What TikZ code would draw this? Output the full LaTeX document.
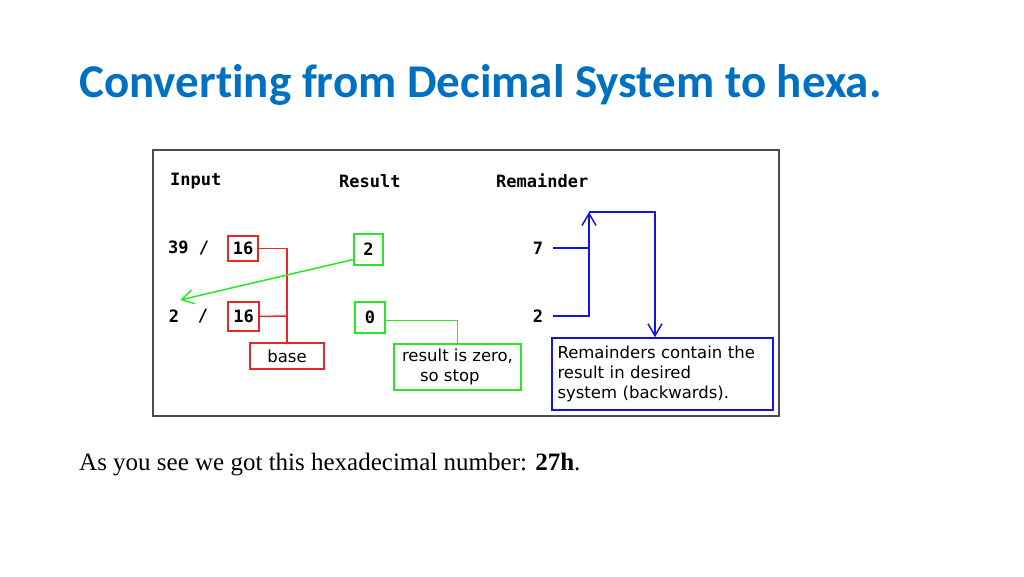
\documentclass[tikz,border=0pt]{standalone}
\usepackage{fontspec}
\setmainfont{Liberation Serif}
\newfontfamily\titlefont[RawFeature=-liga]{Carlito}
\newfontfamily\monof{DejaVu Sans Mono}
\newfontfamily\smallsans{DejaVu Sans}
\usetikzlibrary{arrows.meta}
\definecolor{titleblue}{RGB}{0,112,192}
\definecolor{rd}{RGB}{230,40,40}
\definecolor{gr}{RGB}{40,230,40}
\definecolor{bl}{RGB}{20,20,220}
\begin{document}
\begin{tikzpicture}[x=1pt,y=-1pt,
  hdr/.style={font=\monof\bfseries\fontsize{17}{20}\selectfont,anchor=west,inner sep=0},
  num/.style={font=\monof\bfseries\fontsize{17}{20}\selectfont,inner sep=0},
  lbl/.style={font=\smallsans\fontsize{16.5}{20}\selectfont,inner sep=0,align=left},
  rbox/.style={draw=rd,line width=1.5pt},
  gbox/.style={draw=gr,line width=1.5pt},
  bbox/.style={draw=bl,line width=1.5pt},
  oarrow/.style={-{Straight Barb[length=12pt,width=14pt]}}]
\useasboundingbox (0,0) rectangle (1024,576);
\node[font=\titlefont\bfseries\fontsize{47}{52}\selectfont,text=titleblue,anchor=west,inner sep=0] (title) at (79,85) {Converting from Decimal System to hexa.};
\draw[draw=black!70,line width=1.8pt] (153,150) rectangle (779,416);
\node[hdr] (h1) at (170,181) {Input};
\node[hdr] (h2) at (339,181) {Result};
\node[hdr] (h3) at (496,181) {Remainder};
\node[num,anchor=west] (n39) at (168,248) {39 /};
\node[rbox,minimum width=30pt,minimum height=25pt,num] (b16a) at (243,248.5) {16};
\node[num] (n2) at (174,316) {2};
\node[num] (sl) at (203,316) {/};
\node[rbox,minimum width=31pt,minimum height=29pt,num] (b16b) at (243.5,316.5) {16};
\node[rbox,minimum width=74pt,minimum height=26pt,lbl] (base) at (287,356) {base};
\coordinate (rj) at (286,316);
\draw[rd,line width=1.5pt] (b16a.east) -| (base.north);
\draw[rd,line width=1.5pt] (b16b.east) -- (rj);
\node[gbox,minimum width=29pt,minimum height=31pt,num] (g2) at (368.5,249.5) {2};
\node[gbox,minimum width=30pt,minimum height=31pt,num] (g0) at (370,317.5) {0};
\node[gbox,minimum width=127pt,minimum height=46pt,lbl,align=left] (stop) at (457.5,367) {result is zero,\\\hspace{18pt}so stop};
\coordinate (ah) at (180,300);
\draw[gr,line width=1.5pt,oarrow] ([yshift=-10pt]g2.west) -- (ah);
\draw[gr,line width=1.5pt] ([yshift=-3pt]g0.east) -| (stop.north);
\node[num] (r7) at (538,248) {7};
\node[num] (r2) at (538,316) {2};
\node[bbox,minimum width=221pt,minimum height=72pt,lbl,text width=210pt] (rem) at (662.5,374) {Remainders contain the\\result in desired\\system (backwards).};
\coordinate (j7) at (589,248);
\coordinate (top) at (589,212);
\coordinate (tr) at (655,212);
\draw[bl,line width=1.5pt] (553,248) -- (j7);
\draw[bl,line width=1.5pt,oarrow] (553,316) -| (top);
\draw[bl,line width=1.5pt,oarrow] (top) -- (tr) -- (rem.north -| tr);
\node[font=\fontsize{25}{30}\selectfont,anchor=west,inner sep=0] (txt) at (79,465) {As you see we got this hexadecimal number: \textbf{27h}.};
\end{tikzpicture}
\end{document}
